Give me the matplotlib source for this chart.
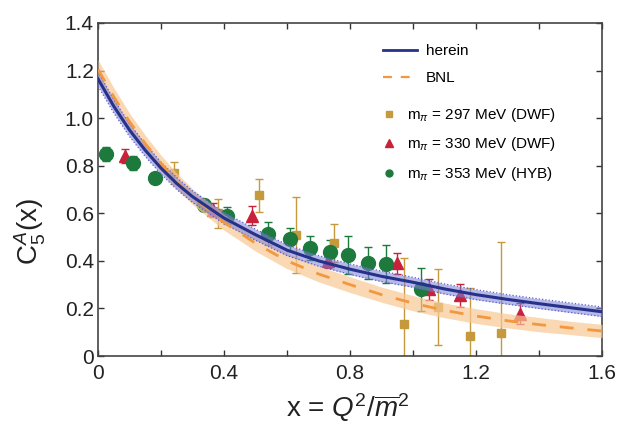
import matplotlib
matplotlib.use("Agg")
import matplotlib.pyplot as plt
from matplotlib.lines import Line2D
import numpy as np

plt.rcParams['font.family'] = ['Liberation Sans', 'DejaVu Sans']
plt.rcParams['mathtext.fontset'] = 'custom'
plt.rcParams['mathtext.rm'] = 'Liberation Sans'
plt.rcParams['mathtext.it'] = 'Liberation Sans:italic'
plt.rcParams['mathtext.bf'] = 'Liberation Sans:bold'

# ---- curves: present result and BNL fit, with their uncertainty bands ----
curve_x = [0.0, 0.05, 0.1, 0.15, 0.2, 0.25, 0.3, 0.4, 0.5, 0.6, 0.7, 0.8,
           0.9, 1.0, 1.1, 1.2, 1.3, 1.4, 1.5, 1.6]
herein_y = [1.165, 1.05, 0.95, 0.865, 0.79, 0.725, 0.67, 0.58, 0.51, 0.445,
            0.40, 0.365, 0.335, 0.31, 0.282, 0.258, 0.238, 0.22, 0.203, 0.186]
herein_err = [0.03, 0.028, 0.027, 0.026, 0.025, 0.025, 0.024, 0.024, 0.023,
              0.023, 0.022, 0.022, 0.022, 0.021, 0.021, 0.021, 0.02, 0.02,
              0.02, 0.02]
bnl_y = [1.205, 1.09, 0.985, 0.893, 0.81, 0.735, 0.67, 0.562, 0.474, 0.40,
         0.345, 0.30, 0.258, 0.222, 0.192, 0.168, 0.148, 0.132, 0.118, 0.105]
bnl_err = [0.04, 0.038, 0.036, 0.035, 0.034, 0.034, 0.033, 0.033, 0.033,
           0.033, 0.033, 0.033, 0.032, 0.032, 0.031, 0.031, 0.03, 0.03,
           0.028, 0.028]

# ---- lattice data ----
dwf297_x = [0.24, 0.38, 0.51, 0.63, 0.75, 0.97, 1.08, 1.18, 1.28]
dwf297_y = [0.77, 0.60, 0.675, 0.51, 0.475, 0.135, 0.205, 0.085, 0.095]
dwf297_err = [0.045, 0.06, 0.07, 0.16, 0.08, 0.275, 0.16, 0.20, 0.385]

dwf330_x = [0.085, 0.365, 0.49, 0.73, 0.95, 1.05, 1.15, 1.34]
dwf330_y = [0.84, 0.613, 0.59, 0.40, 0.39, 0.28, 0.255, 0.178]
dwf330_err = [0.03, 0.03, 0.04, 0.03, 0.045, 0.045, 0.048, 0.045]

hyb353_x = [0.025, 0.11, 0.18, 0.335, 0.41, 0.54, 0.61, 0.673, 0.737,
            0.794, 0.856, 0.914, 1.025]
hyb353_y = [0.85, 0.81, 0.75, 0.635, 0.59, 0.515, 0.49, 0.454, 0.437,
            0.424, 0.39, 0.387, 0.28]
hyb353_err = [0.03, 0.03, 0.02, 0.025, 0.035, 0.05, 0.05, 0.05, 0.05,
              0.08, 0.068, 0.08, 0.09]

x_ticks = [0, 0.4, 0.8, 1.2, 1.6]
x_tick_labels = ["0", "0.4", "0.8", "1.2", "1.6"]
y_ticks = [0, 0.2, 0.4, 0.6, 0.8, 1.0, 1.2, 1.4]
y_tick_labels = ["0", "0.2", "0.4", "0.6", "0.8", "1.0", "1.2", "1.4"]

legend_labels = ["herein", "BNL",
                 r"m$_\pi$ = 297 MeV (DWF)",
                 r"m$_\pi$ = 330 MeV (DWF)",
                 r"m$_\pi$ = 353 MeV (HYB)"]

c_herein = '#26318a'
c_band = '#7c80d8'
c_bnl = '#f2983f'
c_bnl_band = '#f9c894'
c_gold = '#c49a3c'
c_red = '#c9213a'
c_green = '#1d7a3c'

W, H = 621, 428
fig = plt.figure(figsize=(W / 100, H / 100), dpi=100)
ax = fig.add_axes([98 / W, 1 - 356 / H, (602 - 98) / W, (356 - 23) / H])

# data points (under the translucent bands)
ax.errorbar(dwf297_x, dwf297_y, yerr=dwf297_err, fmt='s', color=c_gold,
            ms=6, elinewidth=1.0, capsize=3, capthick=1.0, zorder=2)
ax.errorbar(dwf330_x, dwf330_y, yerr=dwf330_err, fmt='^', color=c_red,
            ms=8, elinewidth=1.0, capsize=3, capthick=1.0, zorder=2)
ax.errorbar(hyb353_x, hyb353_y, yerr=hyb353_err, fmt='o', color=c_green,
            ms=10, elinewidth=1.0, capsize=3, capthick=1.0, zorder=2)

cx = np.array(curve_x)
hy = np.array(herein_y)
he = np.array(herein_err)
by = np.array(bnl_y)
be = np.array(bnl_err)

ax.fill_between(cx, by - be, by + be, color=c_bnl_band, alpha=0.7,
                lw=0, zorder=3)
ax.plot(cx, by, color=c_bnl, lw=2.0, dashes=(5, 5), zorder=5)

ax.fill_between(cx, hy - he, hy + he, color=c_band, alpha=0.55,
                lw=0, zorder=4)
ax.plot(cx, hy - he, color='#5b60c8', lw=0.9, ls=':', zorder=4)
ax.plot(cx, hy + he, color='#5b60c8', lw=0.9, ls=':', zorder=4)
ax.plot(cx, hy, color=c_herein, lw=2.2, zorder=6)

ax.set_xlim(0, 1.6)
ax.set_ylim(0, 1.4)
ax.set_xticks(x_ticks)
ax.set_xticklabels(x_tick_labels)
ax.set_xticks(np.arange(0, 1.61, 0.2), minor=True)
ax.set_yticks(y_ticks)
ax.set_yticklabels(y_tick_labels)

ax.tick_params(which='both', direction='in', top=True, right=True,
               length=4, width=1.0, colors='#333333', labelcolor='#222222')
ax.tick_params(axis='x', which='major', labelsize=15, pad=6)
ax.tick_params(axis='y', which='major', labelsize=15, pad=3)
for s in ax.spines.values():
    s.set_color('#444444')
    s.set_linewidth(1.2)

fig.text(348 / W, 1 - 408 / H, r"x = $Q^2/\overline{m}^2$", fontsize=20,
         ha='center', va='center', color='#222222')
fig.text(30 / W, 1 - 232 / H, r"C$_5^A$(x)", fontsize=20, rotation=90,
         ha='center', va='center', color='#222222')

line_handles = [Line2D([], [], color=c_herein, lw=2.0),
                Line2D([], [], color=c_bnl, lw=1.6, dashes=(4, 4))]
leg1 = ax.legend(line_handles, legend_labels[:2], loc='upper left',
                 bbox_to_anchor=(383 / W, 1 - 44 / H),
                 bbox_transform=fig.transFigure, frameon=False, fontsize=11,
                 handlelength=2.2, handletextpad=0.6, labelspacing=0.85,
                 borderpad=0, borderaxespad=0)
ax.add_artist(leg1)

mark_handles = [Line2D([], [], ls='none', marker='s', color=c_gold, ms=5),
                Line2D([], [], ls='none', marker='^', color=c_red, ms=6),
                Line2D([], [], ls='none', marker='o', color=c_green, ms=5)]
ax.legend(mark_handles, legend_labels[2:], loc='upper left',
          bbox_to_anchor=(383 / W, 1 - 106 / H),
          bbox_transform=fig.transFigure, frameon=False, fontsize=11,
          handlelength=0.8, handletextpad=0.75, labelspacing=0.75,
          borderpad=0, borderaxespad=0)

fig.savefig('out.png', dpi=100)
